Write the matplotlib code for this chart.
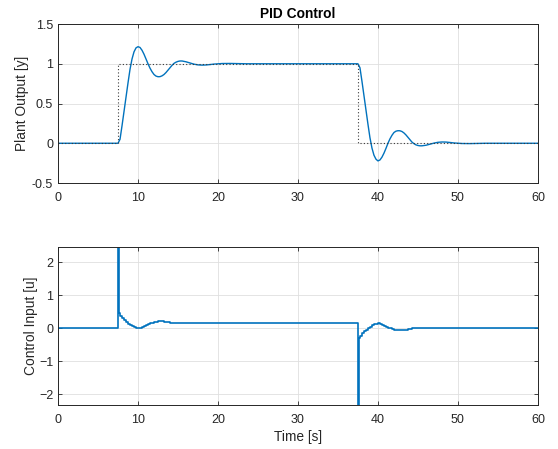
import numpy as np
import matplotlib
matplotlib.use("Agg")
import matplotlib.pyplot as plt

plt.rcParams['font.family'] = ['Liberation Sans', 'DejaVu Sans']

# set-point steps
t_ref = [0, 7.5, 37.5, 60]
r_ref = [0, 1, 0, 0]

# plant output: time after each step [s] and value
tau_y = [0, 0.25, 0.5, 0.75, 1.0, 1.25, 1.5, 1.75, 2.0, 2.25, 2.5, 2.75, 3.0,
         3.25, 3.5, 3.75, 4.0, 4.25, 4.5, 4.75, 5.0, 5.25, 5.5, 5.75, 6.0,
         6.25, 6.5, 6.75, 7.0, 7.25, 7.5, 7.75, 8.0,
         8.5, 9.0, 9.5, 10.0, 10.5, 11.0, 11.5, 12.0, 13.0, 14.0, 15.0, 16.0]
y_up = [0, 0.05, 0.22, 0.40, 0.58, 0.76, 0.93, 1.06, 1.15, 1.20, 1.215, 1.205, 1.17,
        1.12, 1.06, 1.00, 0.945, 0.90, 0.865, 0.845, 0.837, 0.838, 0.848, 0.865, 0.89,
        0.92, 0.95, 0.98, 1.005, 1.02, 1.03, 1.035, 1.035,
        1.025, 1.01, 0.995, 0.986, 0.983, 0.985, 0.99, 0.996, 1.003, 1.004, 1.002, 1.0]
y_down = [1.0, 0.95, 0.78, 0.60, 0.42, 0.24, 0.07, -0.06, -0.15, -0.20, -0.222, -0.21, -0.175,
          -0.125, -0.065, 0.0, 0.055, 0.10, 0.135, 0.152, 0.158, 0.157, 0.148, 0.13, 0.105,
          0.075, 0.045, 0.015, -0.005, -0.02, -0.028, -0.032, -0.032,
          -0.025, -0.012, 0.002, 0.012, 0.016, 0.015, 0.01, 0.004, -0.003, -0.004, -0.002, 0.0]

# control input (held between samples)
tau_u = [0, 0.1, 0.25, 0.5, 0.75, 1.0, 1.25, 1.5, 1.75, 2.0, 2.25, 2.5, 2.75, 3.0,
         3.25, 3.5, 3.75, 4.0, 4.25, 4.5, 4.75, 5.0, 5.25, 5.5, 5.75, 6.0, 6.25, 6.5, 6.75]
u_up = [30, 0.45, 0.38, 0.30, 0.24, 0.19, 0.14, 0.10, 0.06, 0.03, 0.01, 0.0, 0.01, 0.04,
        0.07, 0.10, 0.13, 0.15, 0.17, 0.19, 0.20, 0.21, 0.21, 0.21, 0.20, 0.19, 0.18, 0.17, 0.15]
u_down = [-30, -0.30, -0.23, -0.15, -0.09, -0.04, 0.01, 0.05, 0.09, 0.12, 0.14, 0.15, 0.14, 0.11,
          0.08, 0.05, 0.02, 0.0, -0.02, -0.04, -0.05, -0.06, -0.06, -0.06, -0.05, -0.04, -0.03, -0.02, 0.0]

step_times = [7.5, 37.5]

t_y = np.concatenate([[0], step_times[0] + np.array(tau_y), step_times[1] + np.array(tau_y), [60]])
y = np.concatenate([[0], y_up, y_down, [0]])
t_u = np.concatenate([[0], step_times[0] + np.array(tau_u), step_times[1] + np.array(tau_u), [60]])
u = np.concatenate([[0], u_up, u_down, [0]])

blue = '#0072BD'
txt = '#262626'

fig = plt.figure(figsize=(5.58, 4.49), dpi=100)
ax1 = fig.add_axes([0.104, 0.5924, 0.860, 0.3541])
ax2 = fig.add_axes([0.104, 0.0980, 0.860, 0.3526])


def style(ax):
    ax.grid(True, color='#dfdfdf', lw=0.6)
    ax.set_axisbelow(True)
    ax.tick_params(direction='in', length=3, width=0.6, labelsize=9, colors=txt,
                   top=True, right=True)
    ax.tick_params(axis='x', pad=6.5)
    ax.tick_params(axis='y', pad=3.5)
    for s in ax.spines.values():
        s.set_color(txt)
        s.set_linewidth(0.7)
    ax.set_xlim(0, 60)
    ax.set_xticks(range(0, 61, 10))


ax1.plot(t_y, y, color=blue, lw=1.0)
ax1.step(t_ref, r_ref, where='post', color='#3a3a3a', lw=0.8, ls=(0, (1, 2)))
style(ax1)
ax1.set_ylim(-0.5, 1.5)
ax1.set_yticks([-0.5, 0, 0.5, 1, 1.5], ['-0.5', '0', '0.5', '1', '1.5'])
ax1.set_ylabel('Plant Output [y]', fontsize=9.9, color=txt, labelpad=2)
ax1.set_title('PID Control', fontsize=9.9, fontweight='bold', color='black', pad=4)

ax2.step(t_u, u, where='post', color=blue, lw=1.2)
style(ax2)
ax2.set_ylim(-2.32, 2.47)
ax2.set_yticks([-2, -1, 0, 1, 2])
ax2.set_ylabel('Control Input [u]', fontsize=9.9, color=txt, labelpad=1)
ax2.set_xlabel('Time [s]', fontsize=9.9, color=txt, labelpad=3)

fig.savefig('out.png', dpi=100)
